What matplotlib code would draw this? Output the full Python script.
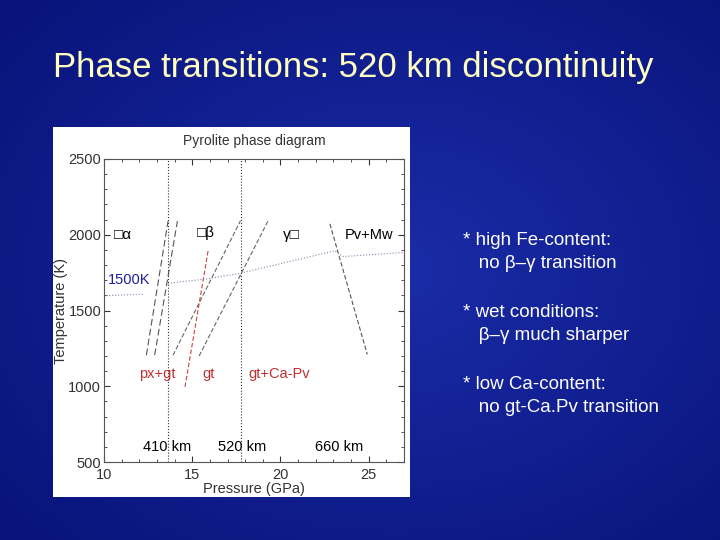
import matplotlib
matplotlib.use("Agg")
import matplotlib.pyplot as plt
import numpy as np

plt.rcParams['font.family'] = ['Liberation Sans', 'DejaVu Sans']

# phase boundaries (pressure GPa, temperature K)
bound_a = ([12.4, 13.63], [1205, 2090])
bound_b = ([12.87, 14.16], [1205, 2090])
bound_bg1 = ([13.91, 17.73], [1205, 2092])
bound_bg2 = ([15.39, 19.30], [1200, 2092])
bound_red = ([14.59, 15.90], [996, 1894])
bound_660 = ([22.8, 24.92], [2072, 1210])
geo1_p = [10.13, 12.2]
geo1_t = [1598, 1607]
geo2_p = [13.63, 15.8, 17.73, 23.08, 23.55, 26.96]
geo2_t = [1680, 1708, 1746, 1894, 1856, 1883]
depth_p = [13.6, 17.77]
depth_labels = [(13.6, "410 km"), (17.8, "520 km"), (23.3, "660 km")]

fig = plt.figure(figsize=(7.2, 5.4), dpi=100)

# slide background
bg = fig.add_axes([0, 0, 1, 1])
yy, xx = np.mgrid[0:1:200j, 0:1:200j]
r = np.sqrt((xx - 0.55) ** 2 + (yy - 0.5) ** 2)
c0 = np.array([0x1a, 0x2c, 0xa8]) / 255
c1 = np.array([0x08, 0x12, 0x78]) / 255
w = np.clip(r / 0.75, 0, 1)[..., None]
bg.imshow(c0 * (1 - w) + c1 * w, aspect="auto", extent=[0, 1, 0, 1])
bg.axis("off")

fig.text(53 / 720, 1 - 68 / 540, "Phase transitions: 520 km discontinuity", color="#FFFFC0",
         fontsize=25, ha="left", va="center")

bullets = ["* high Fe-content:\n   no \u03b2\u2013\u03b3 transition",
           "* wet conditions:\n   \u03b2\u2013\u03b3 much sharper",
           "* low Ca-content:\n   no gt-Ca.Pv transition"]
for i, b in enumerate(bullets):
    fig.text(0.643, 1 - (232 + i * 72) / 540, b, color="white", fontsize=13.5,
             ha="left", va="top", linespacing=1.45)

# white image panel
panel = fig.add_axes([53 / 720, 1 - 497 / 540, 357 / 720, 370 / 540])
panel.set_facecolor("white")
panel.set_xticks([]); panel.set_yticks([])
for s in panel.spines.values():
    s.set_visible(False)

ax = fig.add_axes([104 / 720, 1 - 462 / 540, 300 / 720, 303 / 540])
ax.set_xlim(10, 27)
ax.set_ylim(500, 2500)
ax.set_facecolor("white")
ax.set_xticks([10, 15, 20, 25])
ax.set_yticks([500, 1000, 1500, 2000, 2500])
ax.set_xticks(np.arange(10, 27.1, 1), minor=True)
ax.set_yticks(np.arange(500, 2501, 100), minor=True)
ax.tick_params(direction="in", top=True, right=True, which="both", labelsize=10.5,
               length=4, colors="#333333", pad=2)
ax.tick_params(axis="x", pad=4)
ax.tick_params(which="minor", length=2)
for s in ax.spines.values():
    s.set_color("#555555")
ax.set_xlabel("Pressure (GPa)", fontsize=10.5, labelpad=0, color="#333333")
ax.set_ylabel("Temperature (K)", fontsize=10.5, labelpad=0, color="#333333")
ax.set_title("Pyrolite phase diagram", fontsize=10, pad=10, color="#333333")

lw = 0.8
ax.plot(*bound_a, color="#555555", lw=lw, ls=(0, (6, 3)))
ax.plot(*bound_b, color="#555555", lw=lw, ls=(0, (6, 3)))
ax.plot(*bound_bg1, color="#666666", lw=lw, ls=(0, (4, 2)))
ax.plot(*bound_bg2, color="#666666", lw=lw, ls=(0, (4, 2)))
ax.plot(*bound_red, color="#d04040", lw=lw, ls=(0, (4, 2)))
ax.plot(*bound_660, color="#555555", lw=lw, ls=(0, (4, 2)))
ax.plot(geo1_p, geo1_t, color="#8888aa", lw=lw, ls=":")
ax.plot(geo2_p, geo2_t, color="#8888aa", lw=lw, ls=":")
for p in depth_p:
    ax.axvline(p, color="#333333", lw=0.8, ls=":")

ax.text(11.1, 2000, "\u25a1\u03b1", fontsize=11, ha="center", va="center")
ax.text(15.8, 2010, "\u25a1\u03b2", fontsize=11, ha="center", va="center")
ax.text(20.6, 2000, "\u03b3\u25a1", fontsize=11, ha="center", va="center")
ax.text(25, 2000, "Pv+Mw", fontsize=10.5, ha="center", va="center")
ax.text(11.4, 1700, "1500K", fontsize=10.5, color="#2020a0", ha="center", va="center")
ax.text(13.0, 1080, "px+gt", fontsize=10.5, color="#c03030", ha="center", va="center")
ax.text(15.9, 1080, "gt", fontsize=10.5, color="#c03030", ha="center", va="center")
ax.text(19.9, 1080, "gt+Ca-Pv", fontsize=10.5, color="#c03030", ha="center", va="center")
for p, lab in depth_labels:
    ax.text(p, 600, lab, fontsize=10.5, ha="center", va="center")

fig.savefig("out.png", dpi=100)
